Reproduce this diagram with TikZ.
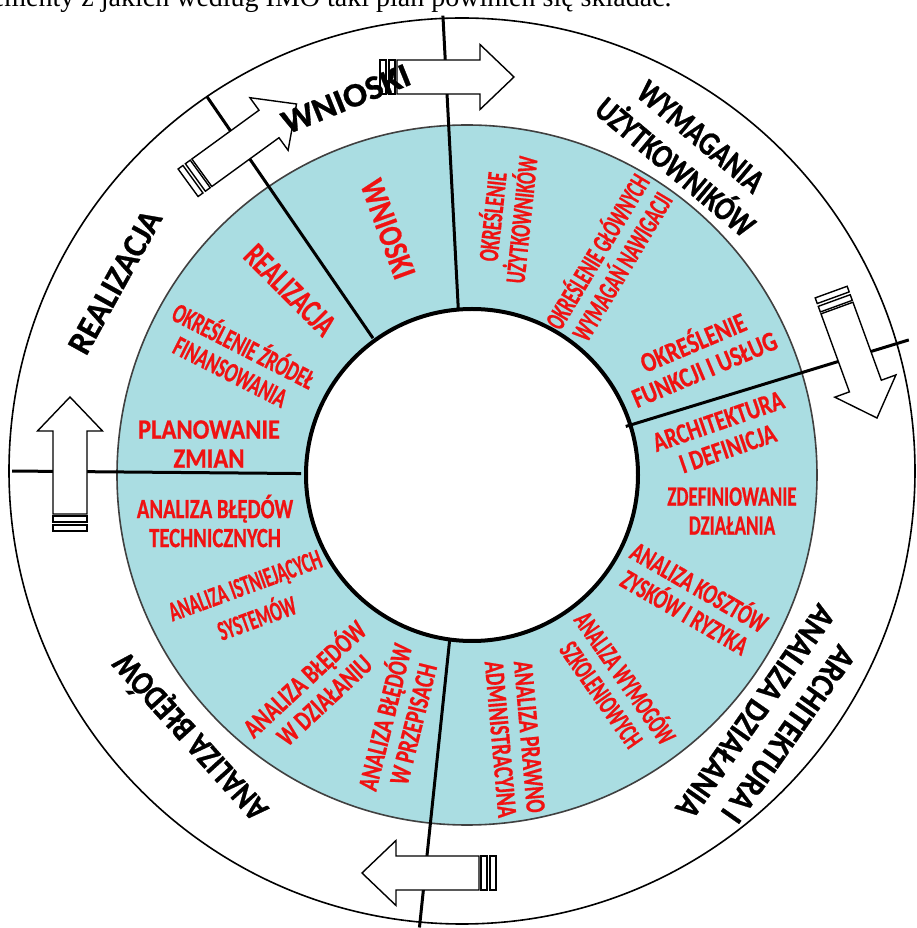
\documentclass[tikz,border=0pt]{standalone}
\usepackage{fontspec}
\setmainfont{Liberation Serif}
\newfontfamily\ringfont{Carlito Bold}[FakeBold=0.8]
\newfontfamily\stepfont{Carlito Bold}[FakeBold=0.6]
\definecolor{ringblue}{RGB}{170,221,226}
\definecolor{stepred}{RGB}{240,18,18}

\begin{document}
\begin{tikzpicture}[x=0.5pt, y=0.5pt,
    ringlabel/.style={font=\ringfont\addfontfeatures{FakeStretch=#1}\fontsize{17}{20}\selectfont, align=center, inner sep=0pt},
    ringlabel/.default=0.9,
    steplabel/.style={font=\stepfont\addfontfeatures{FakeStretch=#1}\fontsize{14}{14.5}\selectfont, text=stepred, align=center, inner sep=0pt},
    steplabel/.default=0.74,
    steptitle/.style={steplabel, font=\stepfont\addfontfeatures{FakeStretch=#1}\fontsize{17}{17}\selectfont},
    divider/.style={line width=1.5pt},
    arrowline/.style={draw, fill=white, line width=0.7pt},
    ringarrow/.pic={
      \draw[arrowline] (0,0) -- (-34,32.5) -- (-34,17) -- (-117,17) -- (-117,-17) -- (-34,-17) -- (-34,-32.5) -- cycle;
      \draw[arrowline] (-119,-17) rectangle (-125,17);
      \draw[arrowline] (-128,-17) rectangle (-134,17);
    }]
    % Page
    \path[use as bounding box, fill=white] (0,0) rectangle (917,928);
    \clip (0,0) rectangle (917,928);
    \node[font=\fontsize{14}{16}\selectfont, anchor=base east, inner sep=0pt] (caption) at (672,921) {elementy z jakich według IMO taki plan powinien się składać.};

    % Rings
    \coordinate (hub) at (467,453);
    \draw[line width=0.8pt] (462,457) circle[radius=453];
    \draw[fill=ringblue, draw=black!75, line width=0.8pt] (467,453) circle[radius=350];
    \draw[fill=white, line width=2pt] (472,453) circle[radius=166];

    % Dividers
    \foreach \a/\r in {93/460, 124.5/459, 17/462, 179.5/455, 264/455}
      \draw[divider] ([shift={(\a:166)}]hub) -- ([shift={(\a:\r)}]hub);

    % Arrows
    \pic (arrowtop) at (514,851) {ringarrow};
    \pic[rotate=36] (arrowleft) at (296.5,824) {ringarrow};
    \pic[rotate=-70] (arrowright) at (877,510) {ringarrow};
    \pic[rotate=90] (arrowside) at (70,531) {ringarrow};
    \pic[rotate=180] (arrowbottom) at (362,55) {ringarrow};

    % Outer ring labels
    \node[ringlabel=1.05, rotate=22] (wnioski) at (346,829) {WNIOSKI};
    \node[ringlabel=0.8, rotate=-40] (wymagania) at (688,776) {WYMAGANIA\\UŻYTKOWNIKÓW};
    \node[ringlabel=0.96, rotate=61] (realizacja) at (115,646) {REALIZACJA};
    \node[ringlabel=0.88, rotate=-125] (architektura) at (772,205) {ARCHITEKTURA I\\ANALIZA DZIAŁANIA};
    \node[ringlabel=0.83, rotate=132] (bledy) at (190,191) {ANALIZA BŁĘDÓW};

    % Steps
    \node[steptitle=0.8, rotate=-70] (wnioskistep) at (388,699) {WNIOSKI};
    \node[steplabel=0.63, rotate=84] (uzytkownicy) at (505,710) {OKREŚLENIE\\UŻYTKOWNIKÓW};
    \node[steplabel=0.61, rotate=59] (nawigacja) at (608,670) {OKREŚLENIE GŁÓWNYCH\\WYMAGAŃ NAWIGACJI};
    \node[steplabel=0.79, rotate=23] (funkcje) at (698,574) {OKREŚLENIE\\FUNKCJI I USŁUG};
    \node[steplabel=0.76, rotate=19] (definicja) at (723,493) {ARCHITEKTURA\\I DEFINICJA};
    \node[steplabel=0.68] (dzialanie) at (732,417) {ZDEFINIOWANIE\\DZIAŁANIA};
    \node[steplabel=0.68, rotate=-30] (koszty) at (693,330) {ANALIZA KOSZTÓW\\ZYSKÓW I RYZYKA};
    \node[steplabel=0.61, rotate=-55] (szkolenia) at (615,243) {ANALIZA WYMOGÓW\\SZKOLENIOWYCH};
    \node[steplabel=0.70, rotate=-85] (prawo) at (515,190) {ANALIZA PRAWNO\\ADMINISTRACYJNA};
    \node[steplabel=0.71, rotate=76] (przepisy) at (397,208) {ANALIZA BŁĘDÓW\\W PRZEPISACH};
    \node[steplabel=0.74, rotate=43] (dzialaniebledy) at (313,240) {ANALIZA BŁĘDÓW\\W DZIAŁANIU};
    \node[steplabel=0.6, rotate=20] (systemy) at (251,326) {ANALIZA ISTNIEJĄCYCH\\[3pt]SYSTEMÓW};
    \node[steplabel=0.74] (techniczne) at (215,407) {ANALIZA BŁĘDÓW\\TECHNICZNYCH};
    \node[steplabel=0.88] (zmiany) at (209,484) {PLANOWANIE\\ZMIAN};
    \node[steplabel=0.65, rotate=-27] (finanse) at (238,571) {OKREŚLENIE ŹRÓDEŁ\\FINANSOWANIA};
    \node[steptitle=0.69, rotate=-45] (realizacjastep) at (290,638) {REALIZACJA};
\end{tikzpicture}
\end{document}
